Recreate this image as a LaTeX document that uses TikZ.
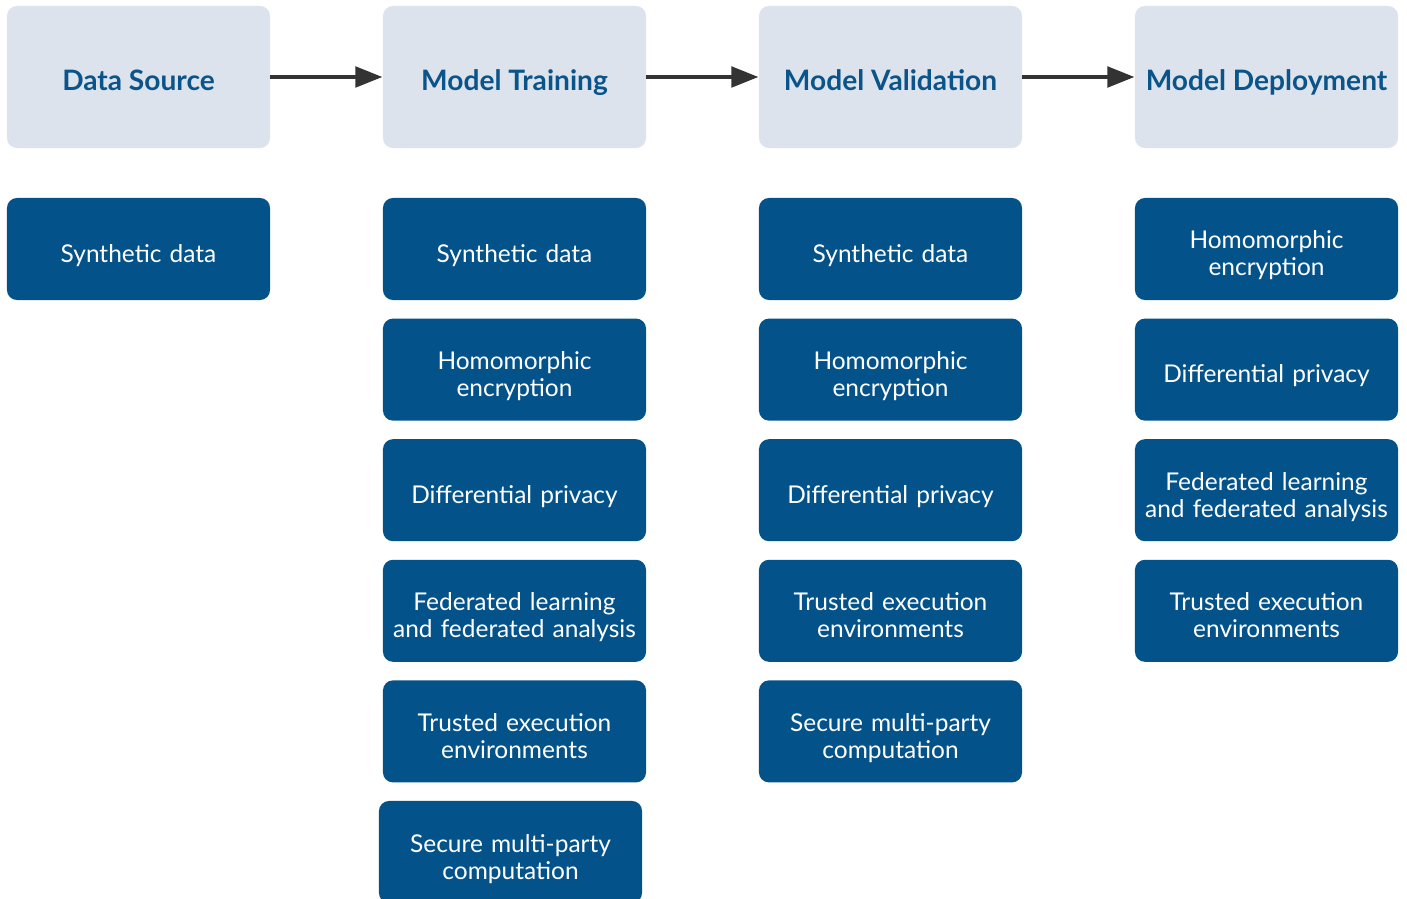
\documentclass[tikz,border=0pt]{standalone}
\usepackage{fontspec}
\setmainfont{Lato}
\usetikzlibrary{arrows.meta}

\definecolor{stagefill}{HTML}{DCE3ED}
\definecolor{techfill}{HTML}{03538A}
\definecolor{stagetext}{HTML}{0A5489}
\definecolor{arrowgray}{HTML}{333333}

\tikzset{
  stagebox/.style={fill=stagefill, rounded corners=0.25cm,
    minimum width=6.575cm, minimum height=3.55cm,
    text height=19.8pt, text depth=0pt,
    text=stagetext, font=\bfseries\fontsize{20}{22}\selectfont},
  techbox/.style={fill=techfill, rounded corners=0.25cm,
    minimum width=6.575cm, minimum height=2.55cm, text width=6.3cm,
    align=center, text=white, font=\fontsize{17.4}{19.2}\selectfont},
  % first baseline sits a bit below the middle of the box
  oneline/.style={techbox, text height=18.5pt, text depth=0pt},
  twolines/.style={techbox, text height=0pt, text depth=0pt},
  flow/.style={-{Triangle[length=0.68cm,width=0.5cm]}, line width=3.5pt, arrowgray}
}

\begin{document}
\begin{tikzpicture}[x=0.025cm,y=-0.025cm]
\useasboundingbox (0,0) rectangle (1407,899);

% stages
\node[stagebox] (source) at (138.5,77) {Data Source};
\node[stagebox] (train) at (514.5,77) {Model Training};
\node[stagebox] (valid) at (890.5,77) {Model Validation};
\node[stagebox] (deploy) at (1266.5,77) {Model Deployment};

\draw[flow] (source) -- (train);
\draw[flow] (train) -- (valid);
\draw[flow] (valid) -- (deploy);

% techniques per stage
\node[oneline] (source-1) at (138.5,249) {Synthetic data};

\foreach \st/\txt [count=\i] in {oneline/Synthetic data,
  twolines/Homomorphic\\encryption, oneline/Differential privacy,
  twolines/Federated learning\\and federated analysis,
  twolines/Trusted execution\\environments}
\node[\st] (train-\i) at (514.5,{249+120.6*(\i-1)}) {\txt};
\node[twolines] (train-6) at (510.5,852) {Secure multi-party\\computation};

\foreach \st/\txt [count=\i] in {oneline/Synthetic data,
  twolines/Homomorphic\\encryption, oneline/Differential privacy,
  twolines/Trusted execution\\environments,
  twolines/Secure multi-party\\computation}
\node[\st] (valid-\i) at (890.5,{249+120.6*(\i-1)}) {\txt};

\foreach \st/\txt [count=\i] in {twolines/Homomorphic\\encryption,
  oneline/Differential privacy,
  twolines/Federated learning\\and federated analysis,
  twolines/Trusted execution\\environments}
\node[\st] (deploy-\i) at (1266.5,{249+120.6*(\i-1)}) {\txt};
\end{tikzpicture}
\end{document}
